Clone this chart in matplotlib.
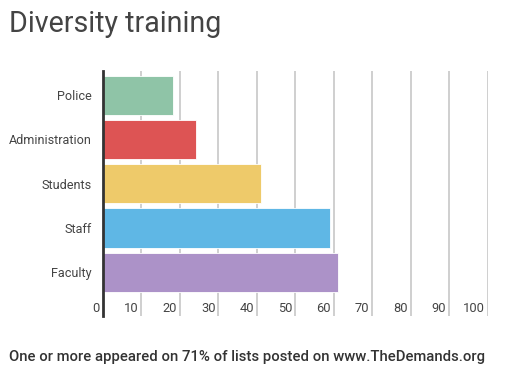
import matplotlib.pyplot as plt
import matplotlib.transforms as mtransforms

categories = ['Police', 'Administration', 'Students', 'Staff', 'Faculty']
values = [18.2, 24.2, 41.2, 59.1, 61.1]
colors = ['#8FC4A7', '#DD5454', '#EECA6A', '#5FB7E5', '#AC92C8']
xticks = [0, 10, 20, 30, 40, 50, 60, 70, 80, 90, 100]

plt.rcParams['font.family'] = ['Roboto', 'DejaVu Sans']

W, H = 506, 378
fig = plt.figure(figsize=(W/100, H/100), dpi=100)
ax = fig.add_axes([103/W, (H-316)/H, (487.7-103)/W, 245/H])

ypos = list(range(len(categories)))
ax.barh(ypos, values, height=0.887, color=colors, edgecolor='white', linewidth=0.6, zorder=2)

ax.set_xlim(0, 100)
ax.set_ylim(4.984, -0.546)
ax.set_yticks(ypos)
ax.set_yticklabels(categories, fontsize=9.1, color='#444444')
ax.tick_params(axis='y', length=0, pad=8)
ax.set_xticks([])

for x in xticks[1:]:
    ax.axvline(x, color='#cccccc', linewidth=1.3, zorder=1)

offs = mtransforms.offset_copy(ax.get_xaxis_transform(), fig=fig, x=-3, y=0, units='dots')
for x in xticks:
    ax.text(x, 0.03, str(x), transform=offs, ha='right', va='center',
            fontsize=9.3, color='#444444')

for s in ['top', 'right', 'bottom']:
    ax.spines[s].set_visible(False)
ax.spines['left'].set_color('#333333')
ax.spines['left'].set_linewidth(2)
ax.spines['left'].set_zorder(3)

fig.text(9/W, 1-24/H, 'Diversity training', fontsize=20.6, color='#444444',
         ha='left', va='center')
fig.text(9/W, 1-357/H, 'One or more appeared on 71% of lists posted on www.TheDemands.org',
         fontsize=10.75, color='#333333', fontweight='medium', ha='left', va='center')

fig.savefig('out.png', dpi=100)
